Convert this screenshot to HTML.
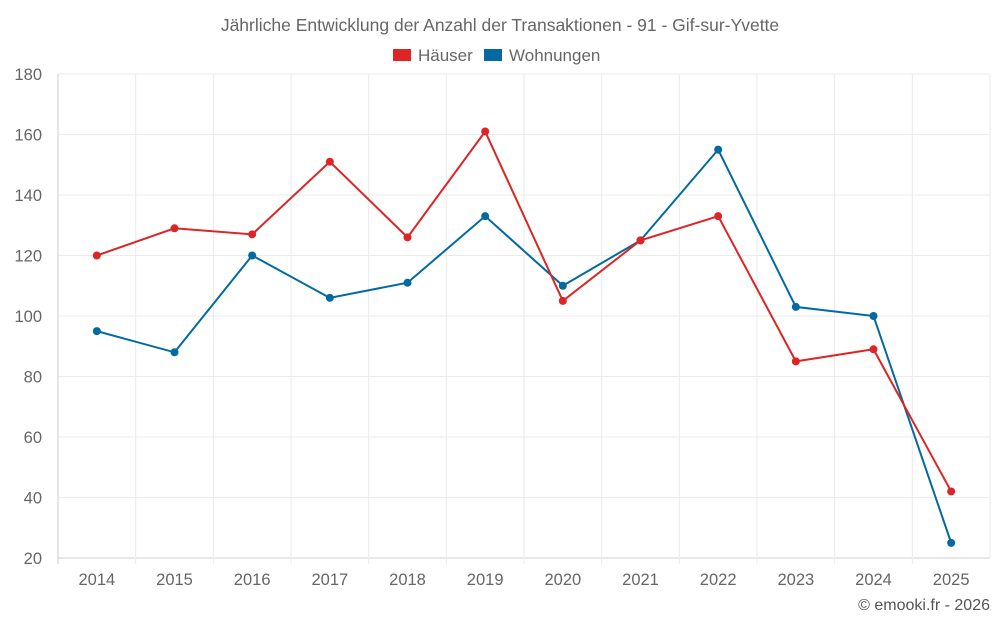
<!DOCTYPE html>
<html><head><meta charset="utf-8"><style>
body{margin:0;background:#fff;font-family:"Liberation Sans",sans-serif;}
svg text{font-family:"Liberation Sans",sans-serif;}
</style></head><body>
<svg id="chart" width="1000" height="625" xmlns="http://www.w3.org/2000/svg">
<text x="500" y="31" text-anchor="middle" font-size="17.5" fill="#666">Jährliche Entwicklung der Anzahl der Transaktionen - 91 - Gif-sur-Yvette</text>
<g><rect x="393" y="49" width="18" height="12" fill="#dc2626"/><text x="418" y="61" font-size="17" fill="#666">Häuser</text></g>
<g><rect x="484" y="49" width="18" height="12" fill="#0369a1"/><text x="509" y="61" font-size="17" fill="#666">Wohnungen</text></g>
<g id="grid"></g><g id="axes"></g><g id="series"></g>
<text x="990" y="610" text-anchor="end" font-size="16" fill="#555">© emooki.fr - 2026</text>
</svg>
<script>
const categories=["2014","2015","2016","2017","2018","2019","2020","2021","2022","2023","2024","2025"];
const haeuser=[120,129,127,151,126,161,105,125,133,85,89,42];
const wohnungen=[95,88,120,106,111,133,110,125,155,103,100,25];
const yTicks=[20,40,60,80,100,120,140,160,180];
const NS="http://www.w3.org/2000/svg";
const L=58,R=990,T=74,B=558,yMin=20,yMax=180;
const step=(R-L)/categories.length;
const x=i=>L+step*(i+0.5);
const y=v=>B-(v-yMin)/(yMax-yMin)*(B-T);
function mk(t,a,p){const e=document.createElementNS(NS,t);for(const k in a)e.setAttribute(k,a[k]);p.appendChild(e);return e;}
const g=document.getElementById('grid'),ax=document.getElementById('axes'),s=document.getElementById('series');
yTicks.forEach(v=>{
 const l=mk('line',{x1:L,x2:R,y1:y(v),y2:y(v),stroke:v===yMin?'#ccc':'#ebebeb'},g);
 
 
 const t=mk('text',{x:L-16,y:y(v)+6,'text-anchor':'end','font-size':16.5,fill:'#666'},ax);t.textContent=v;
 
 
});
for(let i=0;i<=categories.length;i++){
 const l=mk('line',{x1:L+step*i,x2:L+step*i,y1:T,y2:B+(i<categories.length?6:0),stroke:i===0?'#ccc':'#ebebeb'},g);
 
 
}
categories.forEach((c,i)=>{
 const t=mk('text',{x:x(i),y:585,'text-anchor':'middle','font-size':16.5,fill:'#666'},ax);t.textContent=c;
 
 
});
function draw(data,color,name){
 const p=mk('polyline',{points:data.map((v,i)=>x(i)+','+y(v)).join(' '),fill:'none',stroke:color,'stroke-width':2},s);
 
 
 data.forEach((v,i)=>{
  const c=mk('circle',{cx:x(i),cy:y(v),r:4,fill:color},s);
  
  
 });
}
draw(wohnungen,'#0369a1','wohnungen');
draw(haeuser,'#dc2626','haeuser');
</script>
</body></html>
